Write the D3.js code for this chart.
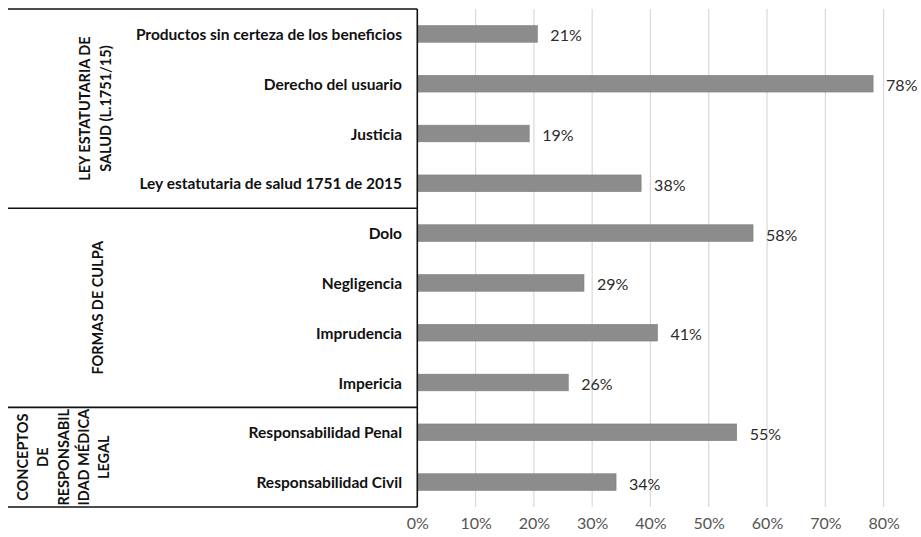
<!DOCTYPE html>
<html><head><meta charset="utf-8">
<script src="https://cdn.jsdelivr.net/npm/d3@7/dist/d3.min.js"></script>
<style>
html,body{margin:0;padding:0;background:#fff;}
svg{display:block;}
</style></head>
<body>
<svg id="chart" width="921" height="537"></svg>
<script>
// ---- data ----
const categories = [
  "Productos sin certeza de los beneficios",
  "Derecho del usuario",
  "Justicia",
  "Ley estatutaria de salud 1751 de 2015",
  "Dolo",
  "Negligencia",
  "Imprudencia",
  "Impericia",
  "Responsabilidad Penal",
  "Responsabilidad Civil"
];
const values = [20.6, 78.2, 19.2, 38.4, 57.6, 28.6, 41.2, 25.9, 54.8, 34.1];
const groupNames = [
  ["LEY ESTATUTARIA DE", "SALUD (L.1751/15)"],
  ["FORMAS DE CULPA"],
  ["CONCEPTOS", "DE", "RESPONSABIL", "IDAD MÉDICA", "LEGAL"]
];
const groupSizes = [4, 4, 2];
const tickValues = [0, 10, 20, 30, 40, 50, 60, 70, 80];

// ---- layout ----
const svg = d3.select("#chart");
const x0 = 417.3, x1 = 883.6, yTop = 9, yBot = 507, tableLeft = 8;
const font = "Lato, 'Open Sans', sans-serif";

const x = d3.scaleLinear().domain([0, 80]).range([x0, x1]);
const y = d3.scaleBand().domain(categories).range([yTop, yBot])
  .paddingInner(0.665).paddingOuter(0.3325);

// gridlines
svg.append("g").selectAll("line").data(tickValues.slice(1)).join("line")
  .attr("x1", d => x(d)).attr("x2", d => x(d))
  .attr("y1", yTop).attr("y2", yBot)
  .attr("stroke", "#d9d9d9").attr("stroke-width", 1.2);

// bars
svg.append("g").selectAll("rect").data(categories).join("rect")
  .attr("x", x(0))
  .attr("y", d => y(d))
  .attr("width", (d, i) => x(values[i]) - x(0))
  .attr("height", y.bandwidth())
  .attr("fill", "#8c8c8c")
  .attr("stroke", "#7f7f7f").attr("stroke-width", 0.6);

// value labels
svg.append("g").selectAll("text").data(categories).join("text")
  .attr("x", (d, i) => x(values[i]) + 13)
  .attr("y", d => y(d) + y.bandwidth() / 2 + 1)
  .attr("dominant-baseline", "central")
  .attr("font-family", font).attr("font-size", 16)
  .attr("fill", "#2b2b2b")
  .text((d, i) => d3.format(".0f")(values[i]) + "%");

// x axis tick labels
const xAxis = d3.axisBottom(x).tickValues(tickValues)
  .tickFormat(d => d + "%").tickSize(0).tickPadding(0);
const ax = svg.append("g").attr("transform", `translate(0,${yBot + 11})`).call(xAxis);
ax.select(".domain").remove();
ax.selectAll("text").attr("font-family", font).attr("font-size", 16)
  .attr("fill", "#555").attr("dy", "0.71em");

// category labels
svg.append("g").selectAll("text").data(categories).join("text")
  .attr("x", 402)
  .attr("y", d => y(d) + y.bandwidth() / 2)
  .attr("dominant-baseline", "central")
  .attr("text-anchor", "end")
  .attr("font-family", font).attr("font-weight", "bold").attr("font-size", 15.5)
  .attr("fill", "#111")
  .text(d => d);

// table lines
const step = y.step();
let idx = 0;
const bounds = [yTop];
groupSizes.forEach(n => { idx += n; bounds.push(yTop + idx * step); });
svg.append("g").selectAll("line").data(bounds).join("line")
  .attr("x1", tableLeft).attr("x2", x0)
  .attr("y1", d => d).attr("y2", d => d)
  .attr("stroke", "#111").attr("stroke-width", 1.6);
svg.append("line").attr("x1", x0).attr("x2", x0).attr("y1", yTop).attr("y2", yBot)
  .attr("stroke", "#111").attr("stroke-width", 1.6);

// group labels (rotated)
const groupCx = [95, 97.5, 63];
const lineGap = [21, 0, 20.3];
groupNames.forEach((lines, g) => {
  const cy = (bounds[g] + bounds[g + 1]) / 2;
  const n = lines.length;
  lines.forEach((t, k) => {
    const cx = groupCx[g] + (k - (n - 1) / 2) * lineGap[g];
    svg.append("text")
      .attr("transform", `translate(${cx},${cy}) rotate(-90)`)
      .attr("text-anchor", "middle").attr("dominant-baseline", "central")
      .attr("font-family", font).attr("font-weight", "bold").attr("font-size", 14.5)
      .attr("fill", "#111")
      .text(t);
  });
});
</script>
</body></html>
